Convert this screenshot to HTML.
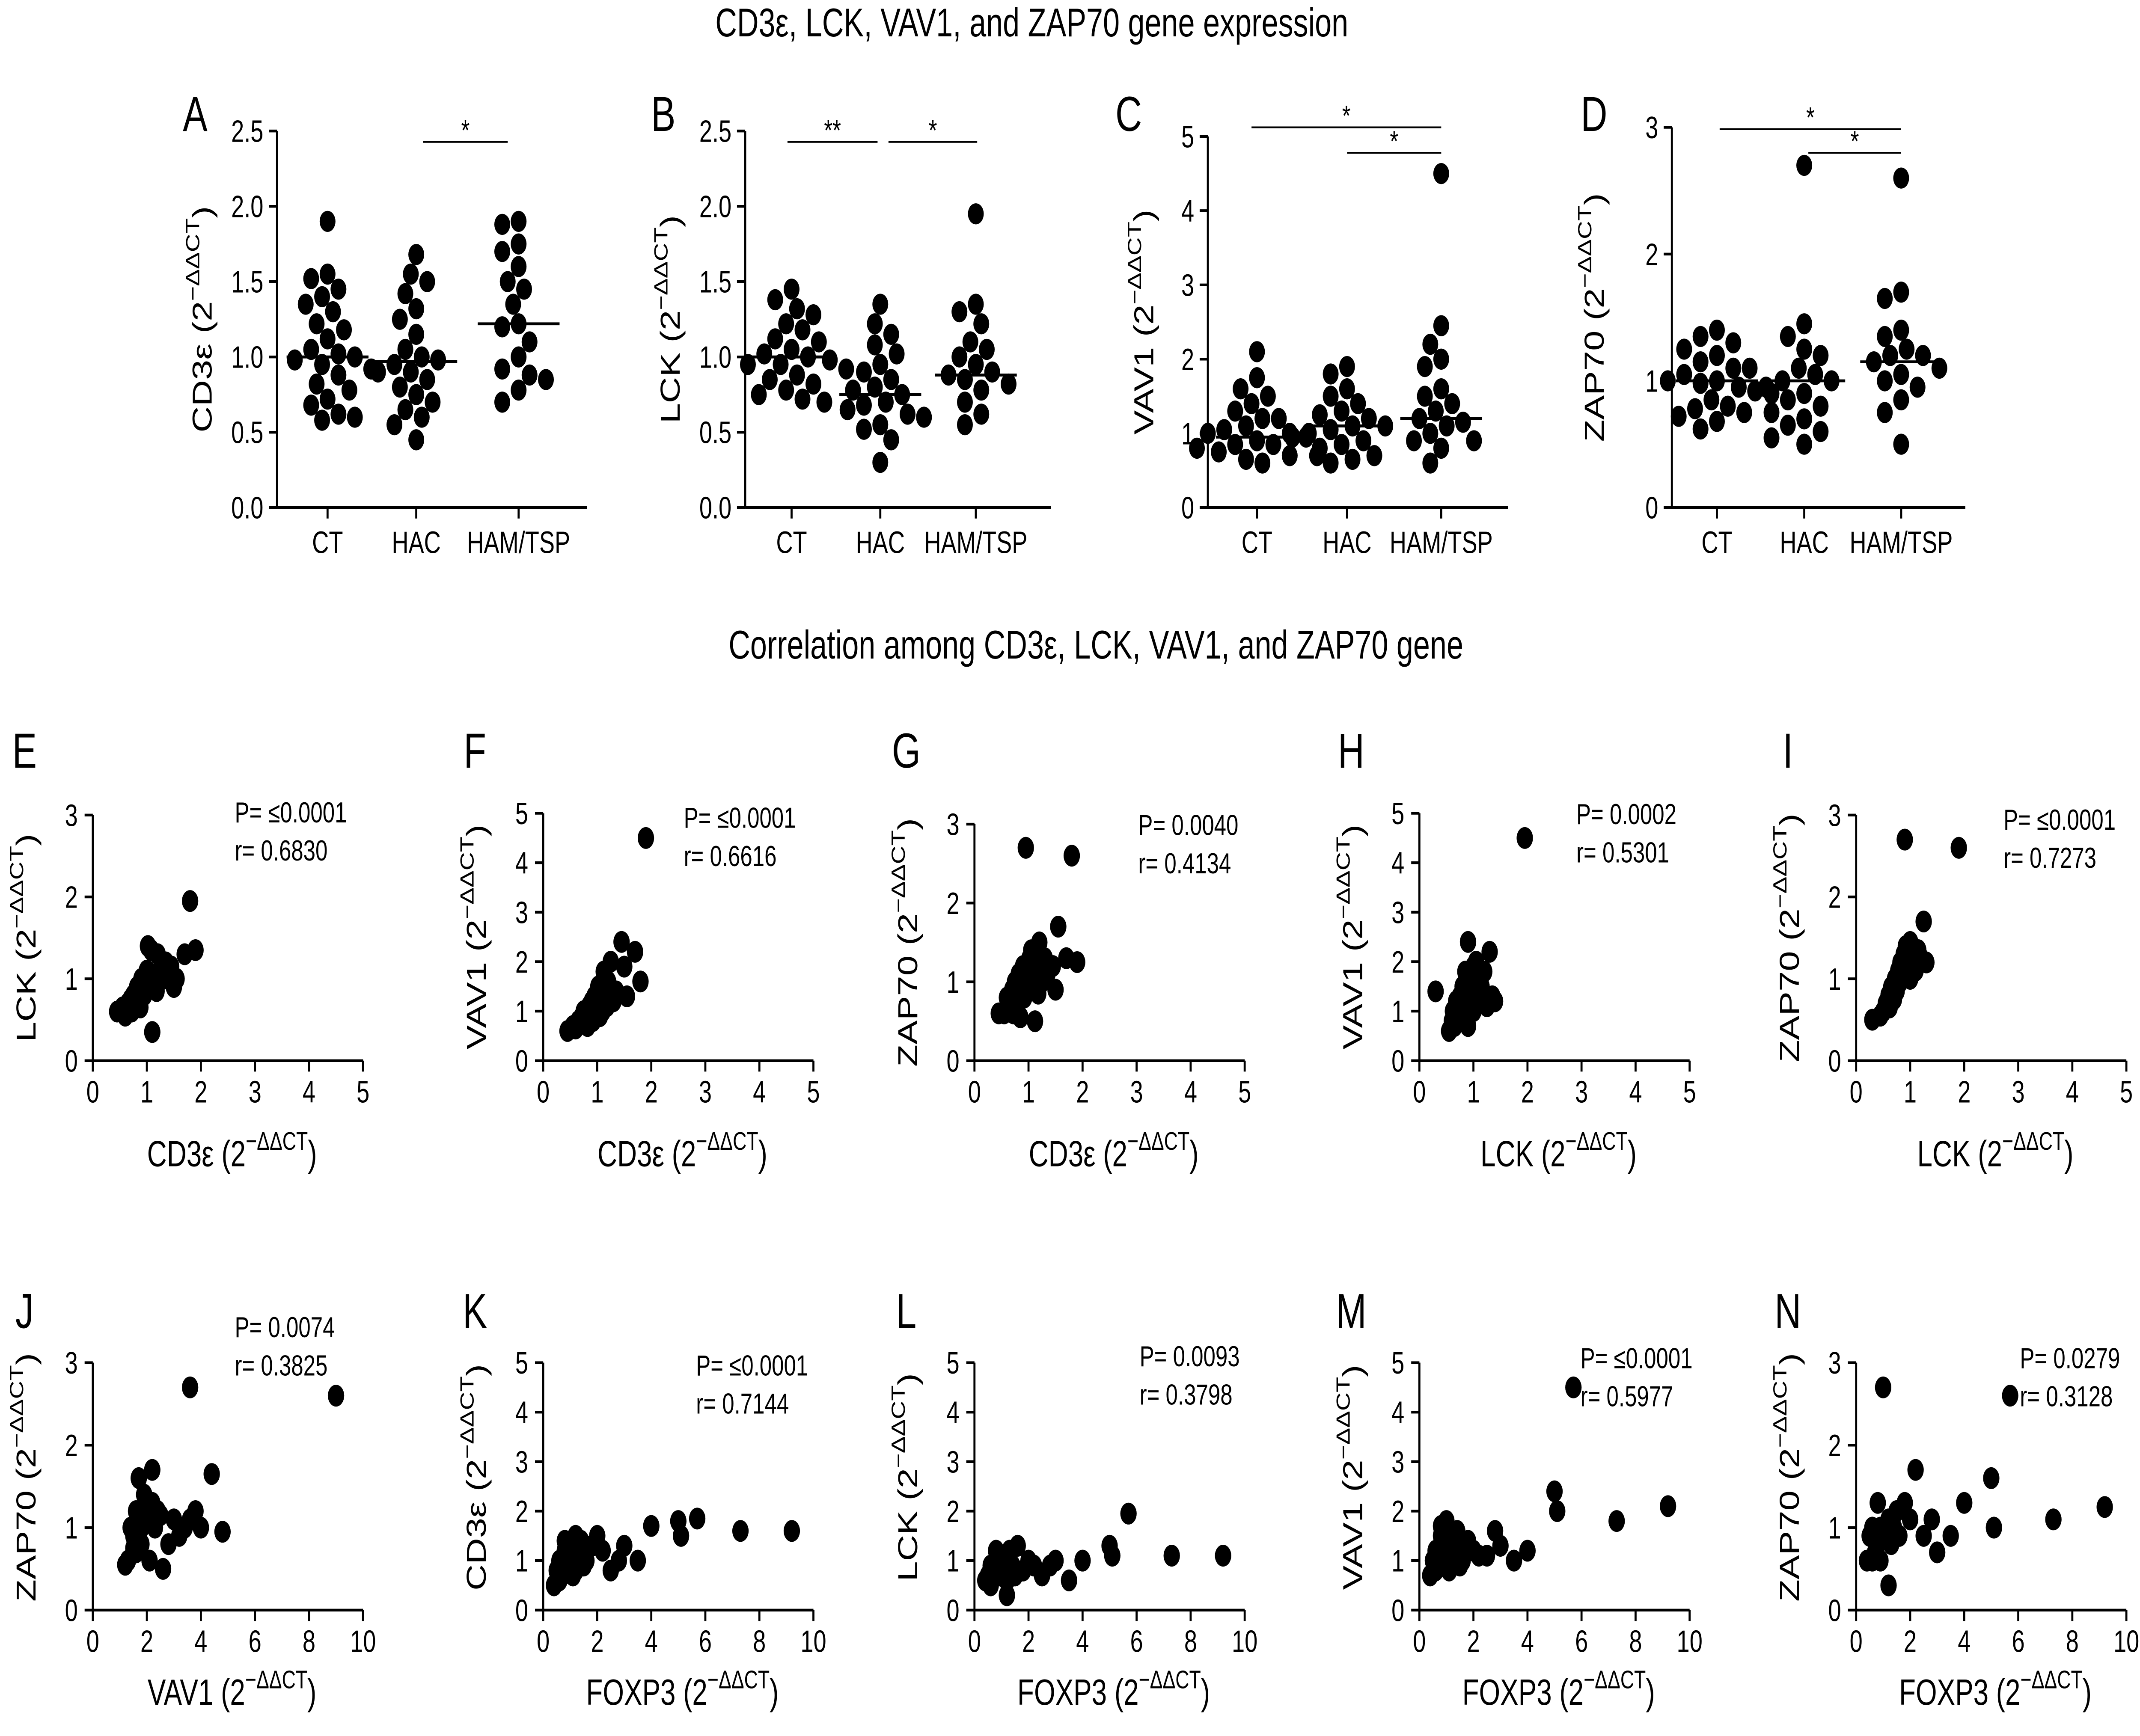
<!DOCTYPE html>
<html><head><meta charset="utf-8"><style>
html,body{margin:0;padding:0;background:#fff;overflow:hidden;width:100vw;height:100vh}
svg{display:block;width:100vw;height:100vh}
text{font-family:"Liberation Sans",Arial,sans-serif;fill:#000}
</style></head><body>
<svg id="c" viewBox="0 0 1568 954.2" preserveAspectRatio="none" xmlns="http://www.w3.org/2000/svg">
<rect width="1568" height="954.2" fill="#fff"/>
<text x="756" y="20" font-size="22" text-anchor="middle">CD3ε, LCK, VAV1, and ZAP70 gene expression</text>
<text x="803" y="362" font-size="22" text-anchor="middle">Correlation among CD3ε, LCK, VAV1, and ZAP70 gene</text>
</svg>
<script>
// ---- strip chart data ----
const categories = ["CT","HAC","HAM/TSP"];
const A_CT=[1.9,1.55,1.52,1.45,1.4,1.35,1.3,1.22,1.18,1.12,1.05,1.0,0.98,0.92,0.88,0.82,0.78,0.72,0.68,0.62,0.6,0.58,0.95,1.02];
const A_HAC=[1.68,1.55,1.5,1.42,1.32,1.25,1.15,1.05,1.0,0.98,0.95,0.9,0.85,0.8,0.75,0.7,0.65,0.6,0.55,0.45,0.9];
const A_HAM=[1.9,1.88,1.75,1.7,1.6,1.5,1.45,1.35,1.22,1.2,1.1,1.0,0.92,0.88,0.78,0.7,0.85];
const B_CT=[1.45,1.38,1.32,1.28,1.22,1.18,1.12,1.05,1.02,1.0,0.98,0.95,0.92,0.88,0.85,0.82,0.78,0.75,0.72,0.7,0.95,1.1];
const B_HAC=[1.35,1.22,1.15,1.08,1.02,0.95,0.9,0.85,0.8,0.78,0.75,0.7,0.68,0.65,0.6,0.55,0.52,0.45,0.3,0.62];
const B_HAM=[1.95,1.35,1.3,1.22,1.1,1.05,1.0,0.95,0.9,0.88,0.82,0.78,0.7,0.62,0.55,0.85];
const C_CT=[2.1,1.75,1.6,1.5,1.4,1.3,1.2,1.1,1.05,1.0,0.95,0.9,0.85,0.8,0.75,0.7,0.7,0.65,0.6,1.0,0.85,1.2];
const C_HAC=[1.9,1.8,1.6,1.5,1.4,1.3,1.25,1.2,1.1,1.05,1.0,0.95,0.9,0.85,0.8,0.7,0.65,0.6,1.1];
const C_HAM=[4.5,2.45,2.2,2.0,1.9,1.6,1.5,1.4,1.3,1.2,1.15,1.1,1.0,0.9,0.8,0.6,0.9];
const D_CT=[1.4,1.35,1.3,1.25,1.2,1.15,1.1,1.05,1.0,0.98,0.95,0.92,0.9,0.85,0.8,0.78,0.75,0.72,0.68,0.62,1.0,1.1];
const D_HAC=[2.7,1.45,1.35,1.25,1.2,1.1,1.05,1.0,0.95,0.9,0.85,0.8,0.75,0.7,0.65,0.6,0.55,0.5,1.0];
const D_HAM=[2.6,1.7,1.65,1.4,1.35,1.25,1.2,1.15,1.1,1.05,1.0,0.95,0.85,0.75,0.5,1.2];
const A_means=[1.0,0.97,1.22], B_means=[1.0,0.75,0.88], C_means=[0.95,1.1,1.2], D_means=[1.0,1.0,1.15];
const yTicks25=[0,0.5,1.0,1.5,2.0,2.5], yTicks5=[0,1,2,3,4,5], yTicks3=[0,1,2,3], xTicks5=[0,1,2,3,4,5], xTicks10=[0,2,4,6,8,10];
// ---- correlation data ----
const E_x=[0.45,0.55,0.6,0.65,0.7,0.72,0.75,0.8,0.82,0.85,0.88,0.9,0.92,0.95,0.98,1.0,1.02,1.05,1.08,1.1,1.12,1.15,1.18,1.2,1.25,1.3,1.35,1.45,1.5,1.55,1.7,1.8,1.9];
const E_y=[0.6,0.65,0.55,0.7,0.75,0.6,0.8,0.7,0.9,0.75,0.65,1.0,0.85,0.8,0.95,1.1,1.4,0.9,1.35,0.35,1.0,1.05,0.85,1.3,1.1,1.0,1.2,1.15,0.9,1.0,1.3,1.95,1.35];
const F_y=[0.6,0.7,0.65,0.8,0.75,0.9,1.0,0.85,0.7,1.1,0.9,1.2,0.8,1.3,1.0,1.1,1.5,0.9,1.2,1.0,1.8,1.3,1.1,1.6,2.0,1.2,1.4,2.4,1.9,1.3,2.2,1.6,4.5];
const G_y=[0.6,0.6,0.8,0.7,0.9,0.6,1.0,0.75,1.1,0.55,0.9,1.2,0.8,2.7,1.0,0.9,1.3,1.4,1.0,1.1,0.5,1.2,0.85,1.5,1.0,1.3,1.1,1.2,0.9,1.7,1.3,2.6,1.25];
const H_x=[0.3,0.55,0.6,0.62,0.65,0.68,0.7,0.72,0.75,0.75,0.78,0.8,0.82,0.85,0.85,0.88,0.9,0.9,0.92,0.95,0.98,1.0,1.0,1.05,1.1,1.15,1.2,1.25,1.3,1.35,1.4,1.95];
const H_y=[1.4,0.6,0.8,1.0,0.7,1.2,0.9,1.1,1.3,0.8,1.0,1.5,0.9,1.2,1.8,1.0,2.4,0.7,1.1,1.3,1.6,1.9,1.0,2.0,1.2,1.5,1.8,1.1,2.2,1.3,1.2,4.5];
const I_x=[0.3,0.45,0.5,0.55,0.6,0.62,0.65,0.7,0.72,0.75,0.78,0.8,0.82,0.85,0.88,0.9,0.92,0.95,1.0,1.0,1.05,1.1,1.15,1.2,1.25,1.3,0.9,1.9];
const I_y=[0.5,0.55,0.6,0.7,0.8,0.65,0.9,0.75,1.0,0.85,1.1,0.95,1.2,1.0,1.3,1.1,1.4,1.2,1.45,1.0,1.3,1.1,1.35,1.25,1.7,1.2,2.7,2.6];
const J_x=[1.2,1.3,1.4,1.5,1.6,1.6,1.7,1.8,1.8,1.9,2.0,2.0,2.1,2.2,2.3,2.4,2.5,2.6,2.8,3.0,3.2,3.4,3.6,3.8,4.0,4.4,4.8,3.6,9.0,1.5,2.2];
const J_y=[0.55,0.6,1.0,0.9,1.2,0.7,1.6,1.0,0.8,1.4,1.2,1.1,0.6,1.3,1.0,1.2,1.15,0.5,0.8,1.1,0.9,1.0,1.1,1.2,1.0,1.65,0.95,2.7,2.6,0.75,1.7];
const K_x=[0.4,0.5,0.6,0.7,0.8,0.9,1.0,1.1,1.2,1.3,1.4,1.5,1.6,1.8,2.0,2.2,0.6,0.9,1.2,1.5,2.5,2.8,3.0,3.5,4.0,5.0,5.1,5.7,7.3,9.2,0.8,1.1];
const K_y=[0.5,0.8,1.0,0.7,1.2,0.9,1.3,1.0,0.8,1.1,1.4,1.2,1.0,1.3,1.5,1.2,0.6,1.1,1.5,0.9,0.8,1.0,1.3,1.0,1.7,1.8,1.5,1.85,1.6,1.6,1.4,0.7];
const L_y=[0.6,0.7,0.9,0.8,1.0,0.7,1.1,0.8,0.6,1.2,0.9,0.7,1.3,0.8,1.0,0.9,0.5,1.0,0.3,0.8,0.7,0.9,1.0,0.6,1.0,1.3,1.1,1.95,1.1,1.1,1.2,0.8];
const M_y=[0.7,1.0,1.2,0.9,1.5,1.1,1.8,0.8,1.0,1.3,1.6,1.2,1.0,1.4,1.2,1.1,0.8,1.5,1.3,0.9,1.1,1.6,1.3,1.0,1.2,2.4,2.0,4.5,1.8,2.1,1.7,1.0];
const N_y=[0.6,0.9,1.0,0.7,1.3,0.6,2.7,0.9,1.1,0.8,1.0,1.2,0.9,1.3,1.1,1.7,0.6,1.0,0.3,1.2,0.9,1.1,0.7,0.9,1.3,1.6,1.0,2.6,1.1,1.25,0.8,1.0];
const statsP=["P= ≤0.0001","P= ≤0.0001","P= 0.0040","P= 0.0002","P= ≤0.0001","P= 0.0074","P= ≤0.0001","P= 0.0093","P= ≤0.0001","P= 0.0279"];
const statsR=["r= 0.6830","r= 0.6616","r= 0.4134","r= 0.5301","r= 0.7273","r= 0.3825","r= 0.7144","r= 0.3798","r= 0.5977","r= 0.3128"];

const NS="http://www.w3.org/2000/svg";
const root=document.getElementById('c');
function mk(tag,attrs,parent){const e=document.createElementNS(NS,tag);for(const k in attrs)e.setAttribute(k,attrs[k]);(parent||root).appendChild(e);return e;}
function txt(p,x,y,s,size,anchor){const t=mk('text',{x:x,y:y,'font-size':size,'text-anchor':anchor||'middle'},p);t.textContent=s;return t;}
function supLabel(p,x,y,base,rot){
  const t=mk('text',{x:x,y:y,'font-size':20,'text-anchor':'middle'},p);
  if(rot)t.setAttribute('transform','rotate(-90 '+x+' '+y+')');
  const a=mk('tspan',{},t);a.textContent=base+' (2';
  const b=mk('tspan',{dy:-9,'font-size':14},t);b.textContent='−ΔΔCT';
  const c=mk('tspan',{dy:9},t);c.textContent=')';
  return t;
}
function line(p,x1,y1,x2,y2,w){return mk('line',{x1:x1,y1:y1,x2:x2,y2:y2,stroke:'#000','stroke-width':w||1.5},p);}

// ---- strip panels ----
const strips=[
 {L:'A',ax:203,base:279,top:72,ymax:2.5,ticks:yTicks25,dec:1,cx:[240,305,380],end:430,vals:[A_CT,A_HAC,A_HAM],means:A_means,sig:[[310,372,78,'*']],lx:143,yl:'CD3ε',ylx:155},
 {L:'B',ax:546,base:279,top:72,ymax:2.5,ticks:yTicks25,dec:1,cx:[580,645,715],end:770,vals:[B_CT,B_HAC,B_HAM],means:B_means,sig:[[577,643,78,'**'],[651,716,78,'*']],lx:486,yl:'LCK',ylx:498},
 {L:'C',ax:885,base:279,top:75,ymax:5,ticks:yTicks5,dec:0,cx:[921,987,1056],end:1105,vals:[C_CT,C_HAC,C_HAM],means:C_means,sig:[[917,1056,70,'*'],[987,1056,84,'*']],lx:827,yl:'VAV1',ylx:845},
 {L:'D',ax:1225,base:279,top:70,ymax:3,ticks:yTicks3,dec:0,cx:[1258,1322,1393],end:1440,vals:[D_CT,D_HAC,D_HAM],means:D_means,sig:[[1260,1393,71,'*'],[1325,1393,84,'*']],lx:1168,yl:'ZAP70',ylx:1175}
];
strips.forEach(s=>{
  const g=mk('g',{});
  
  
  const Y=v=>s.base-(v/s.ymax)*(s.base-s.top);
  const lt=txt(g,s.lx,72,s.L,27);
  
  
  line(g,s.ax,s.base,s.ax,s.top);
  line(g,s.ax,s.base,s.end,s.base);
  s.ticks.forEach(v=>{line(g,s.ax-6,Y(v),s.ax,Y(v));txt(g,s.ax-10,Y(v)+6,v.toFixed(s.dec),17,'end');});
  s.cx.forEach((x,i)=>{line(g,x,s.base,x,s.base+6);const t=txt(g,x,s.base+25,categories[i],17);
    
    });
  const yl=supLabel(g,s.ylx,(s.base+s.top)/2,s.yl,true);
  
  
  s.vals.forEach((arr,i)=>{
    const placed=[];const r=5.8,d=11;
    arr.slice().sort((a,b)=>b-a).forEach(v=>{
      const y=Y(v);let off=0;
      for(let k=0;k<30;k++){const o=(k%2?-1:1)*Math.ceil(k/2)*4;
        if(placed.every(p=>Math.hypot(p[0]-(s.cx[i]+o),p[1]-y)>=d)){off=o;break;}}
      placed.push([s.cx[i]+off,y]);
      const c=mk('circle',{cx:s.cx[i]+off,cy:y,r:r,fill:'#000'},g);
      
      
    });
    const m=line(g,s.cx[i]-30,Y(s.means[i]),s.cx[i]+30,Y(s.means[i]),1.6);
    
    
  });
  s.sig.forEach(b=>{const l=line(g,b[0],b[2],b[1],b[2],1);
    
    
    txt(g,(b[0]+b[1])/2,b[2]-1,b[3],16);});
});

// ---- scatter panels ----
const scat=[
 {L:'E',ax:68,base:583,ymax:3,yt:yTicks3,xmax:5,xt:xTicks5,xs:E_x,ys:E_y,xl:'CD3ε',yl:'LCK',tx:172,ty:452,top:448},
 {L:'F',ax:398,base:583,ymax:5,yt:yTicks5,xmax:5,xt:xTicks5,xs:E_x,ys:F_y,xl:'CD3ε',yl:'VAV1',tx:501,ty:455,top:447},
 {L:'G',ax:714,base:583,ymax:3,yt:yTicks3,xmax:5,xt:xTicks5,xs:E_x,ys:G_y,xl:'CD3ε',yl:'ZAP70',tx:834,ty:459,top:453},
 {L:'H',ax:1040,base:583,ymax:5,yt:yTicks5,xmax:5,xt:xTicks5,xs:H_x,ys:H_y,xl:'LCK',yl:'VAV1',tx:1155,ty:453,top:447},
 {L:'I',ax:1360,base:583,ymax:3,yt:yTicks3,xmax:5,xt:xTicks5,xs:I_x,ys:I_y,xl:'LCK',yl:'ZAP70',tx:1468,ty:456,top:448},
 {L:'J',ax:68,base:885,ymax:3,yt:yTicks3,xmax:10,xt:xTicks10,xs:J_x,ys:J_y,xl:'VAV1',yl:'ZAP70',tx:172,ty:735,top:749},
 {L:'K',ax:398,base:885,ymax:5,yt:yTicks5,xmax:10,xt:xTicks10,xs:K_x,ys:K_y,xl:'FOXP3',yl:'CD3ε',tx:510,ty:756,top:749},
 {L:'L',ax:714,base:885,ymax:5,yt:yTicks5,xmax:10,xt:xTicks10,xs:K_x,ys:L_y,xl:'FOXP3',yl:'LCK',tx:835,ty:751,top:749},
 {L:'M',ax:1040,base:885,ymax:5,yt:yTicks5,xmax:10,xt:xTicks10,xs:K_x,ys:M_y,xl:'FOXP3',yl:'VAV1',tx:1158,ty:752,top:749},
 {L:'N',ax:1360,base:885,ymax:3,yt:yTicks3,xmax:10,xt:xTicks10,xs:K_x,ys:N_y,xl:'FOXP3',yl:'ZAP70',tx:1480,ty:752,top:749}
];
scat.forEach((s,idx)=>{
  const g=mk('g',{});
  
  
  const W=198;
  const X=v=>s.ax+v/s.xmax*W;
  const Y=v=>s.base-v/s.ymax*(s.base-s.top);
  const lt=txt(g,s.ax-50,s.base>600?730:422,s.L,27);
  
  
  line(g,s.ax,s.base,s.ax,s.top);
  line(g,s.ax,s.base,s.ax+W,s.base);
  s.yt.forEach(v=>{line(g,s.ax-6,Y(v),s.ax,Y(v));txt(g,s.ax-11,Y(v)+6,String(v),17,'end');});
  s.xt.forEach(v=>{line(g,X(v),s.base,X(v),s.base+6);txt(g,X(v),s.base+23,String(v),17);});
  const xl=supLabel(g,s.ax+102,s.base+(s.base>600?52:58),s.xl,false);
  
  
  const yl=supLabel(g,s.ax-42,(s.base+s.top)/2+(s.base>600?-5:0),s.yl,true);
  
  
  s.xs.forEach((xv,i)=>{
    const c=mk('circle',{cx:X(xv),cy:Y(s.ys[i]),r:6,fill:'#000'},g);
    
    
  });
  const p=txt(g,s.tx,s.ty,statsP[idx],16,'start');
  
  
  const r=txt(g,s.tx,s.ty+21,statsR[idx],16,'start');
  
  
});
</script>
</body></html>
